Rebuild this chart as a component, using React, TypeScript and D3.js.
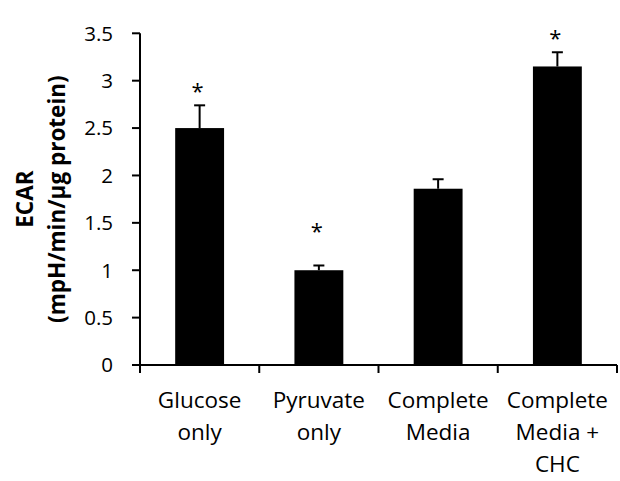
import React from "react";
import * as d3 from "d3";

const categories = [
  ["Glucose", "only"],
  ["Pyruvate", "only"],
  ["Complete", "Media"],
  ["Complete", "Media +", "CHC"],
];
const means = [2.5, 1.0, 1.86, 3.15];
const errors = [0.24, 0.05, 0.1, 0.15];
const significant = [true, true, false, true];
const yTicks = [0, 0.5, 1, 1.5, 2, 2.5, 3, 3.5];

const W = 620;
const H = 481;
const margin = { left: 140, right: 3, top: 33.3, bottom: 116 };
const FONT = "'Open Sans', sans-serif";

// vertical gap (px) between the error cap and its asterisk
const markerGap = (i: number) => (i === 1 ? 38 : 18);

export default function App() {
  const keys = categories.map((c) => c.join(" "));
  const x = d3
    .scaleBand<string>()
    .domain(keys)
    .range([margin.left, W - margin.right])
    .padding(0);
  const y = d3
    .scaleLinear()
    .domain([0, 3.5])
    .range([H - margin.bottom, margin.top]);
  const barW = x.bandwidth() * 0.41;
  const y0 = y(0);
  const center = (i: number) => (x(keys[i]) as number) + x.bandwidth() / 2;

  return (
    <svg
      width={W}
      height={H}
      style={{ position: "absolute", left: 0, top: 0, background: "#fff" }}
    >
      {/* bars */}
      {means.map((v, i) => (
        <rect
          key={"b" + i}
          x={center(i) - barW / 2}
          y={y(v)}
          width={barW}
          height={y0 - y(v)}
          fill="#000"
        />
      ))}
      {/* error bars (upper only) */}
      {means.map((v, i) => {
        const cx = center(i);
        const top = y(v + errors[i]);
        return (
          <g key={"e" + i} stroke="#000" strokeWidth={2}>
            <line x1={cx} x2={cx} y1={y(v)} y2={top} />
            <line x1={cx - 5.5} x2={cx + 5.5} y1={top} y2={top} />
          </g>
        );
      })}
      {/* significance markers */}
      {means.map((v, i) => {
        if (!significant[i]) return null;
        return (
          <text
            key={"s" + i}
            x={center(i) - 2}
            y={y(v + errors[i]) - markerGap(i) + 12}
            textAnchor="middle"
            fontFamily={FONT}
            fontSize={22}
            fill="#000"
          >
            *
          </text>
        );
      })}
      {/* y axis */}
      <line x1={margin.left} x2={margin.left} y1={y(3.5)} y2={y0} stroke="#000" strokeWidth={2} />
      {yTicks.map((t) => (
        <g key={"yt" + t}>
          <line x1={margin.left - 8} x2={margin.left} y1={y(t)} y2={y(t)} stroke="#000" strokeWidth={2} />
          <text
            x={margin.left - 27}
            y={y(t)}
            dy="0.36em"
            textAnchor="end"
            fontFamily={FONT}
            fontSize={20.5}
            fill="#000"
          >
            {t}
          </text>
        </g>
      ))}
      {/* x axis */}
      <line x1={margin.left - 8} x2={W - margin.right} y1={y0} y2={y0} stroke="#000" strokeWidth={2} />
      {[...keys.map((k) => x(k) as number), W - margin.right].map((px, i) => (
        <line key={"xt" + i} x1={px} x2={px} y1={y0} y2={y0 + 8} stroke="#000" strokeWidth={2} />
      ))}
      {categories.map((lines, i) => (
        <text
          key={"xl" + i}
          textAnchor="middle"
          fontFamily={FONT}
          fontSize={22.5}
          fill="#000"
        >
          {lines.map((ln, j) => (
            <tspan key={j} x={center(i)} y={408 + j * 32}>
              {ln}
            </tspan>
          ))}
        </text>
      ))}
      {/* y axis title */}
      <g transform={`translate(0, ${(y(3.5) + y0) / 2}) rotate(-90)`}>
        <text textAnchor="middle" fontFamily={FONT} fontSize={22.5} fontWeight="bold" fill="#000">
          <tspan x={0} y={33}>ECAR</tspan>
          <tspan x={0} y={65}>(mpH/min/µg protein)</tspan>
        </text>
      </g>
    </svg>
  );
}
